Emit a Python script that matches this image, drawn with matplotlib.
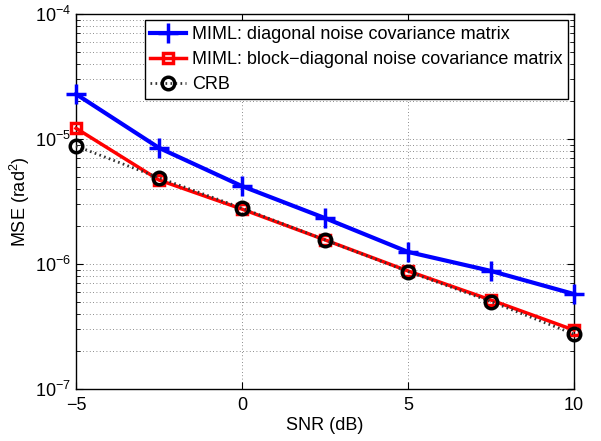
import matplotlib
matplotlib.use('Agg')
import matplotlib.pyplot as plt

plt.rcParams['font.family'] = ['Liberation Sans', 'DejaVu Sans']
plt.rcParams['mathtext.fontset'] = 'custom'
plt.rcParams['mathtext.rm'] = 'Liberation Sans'
plt.rcParams['mathtext.it'] = 'Liberation Sans:italic'

# ── DATA ─────────────────────────────────────────────────────────────────────
SNR = [-5, -2.5, 0, 2.5, 5, 7.5, 10]
MSE_DIAG = [2.29e-5, 8.5e-6, 4.2e-6, 2.33e-6, 1.25e-6, 8.8e-7, 5.75e-7]
MSE_BLOCK = [1.22e-5, 4.7e-6, 2.75e-6, 1.56e-6, 8.8e-7, 5.15e-7, 2.96e-7]
CRB = [8.8e-6, 4.9e-6, 2.8e-6, 1.56e-6, 8.7e-7, 5.0e-7, 2.75e-7]

LABELS = ['MIML: diagonal noise covariance matrix',
          'MIML: block\u2212diagonal noise covariance matrix',
          'CRB']

fig = plt.figure(figsize=(6.01, 4.41), dpi=100)
ax = fig.add_axes([0.1265, 0.118, 0.8285, 0.850])

ax.semilogy(SNR, MSE_DIAG, color='#0000ff', lw=3, marker='+', ms=15, mew=2.5,
            label=LABELS[0], zorder=3, clip_on=False)
ax.semilogy(SNR, MSE_BLOCK, color='#ff0000', lw=2.5, marker='s', ms=7, mew=2.5,
            mfc='none', label=LABELS[1], zorder=4, clip_on=False)
ax.semilogy(SNR, CRB, color='#333333', lw=2, ls=(0, (0.6, 1.2)), marker='o', ms=9,
            mew=2.5, mec='black', mfc='none', label=LABELS[2], zorder=5, clip_on=False)

ax.set_xlim(-5, 10)
ax.set_ylim(1e-7, 1e-4)
ax.set_xticks([-5, 0, 5, 10])
ax.set_xticklabels(['\u22125', '0', '5', '10'])
grid_kw = dict(ls=(0, (1, 3)), color='#666666', lw=0.6)
ax.grid(True, which='major', **grid_kw)
ax.grid(True, which='minor', axis='y', **grid_kw)
ax.tick_params(which='both', direction='in', top=True, right=True, labelsize=13)
ax.tick_params(which='major', length=5)
ax.tick_params(which='minor', length=3)
ax.tick_params(axis='x', pad=6)
for s in ax.spines.values():
    s.set_linewidth(1.0)

ax.set_xlabel('SNR (dB)', fontsize=13, labelpad=2)
ax.set_ylabel('MSE (rad$^2$)', fontsize=13, labelpad=2)

leg = ax.legend(loc='upper right', fontsize=13, fancybox=False, framealpha=1,
                edgecolor='black', borderpad=0.3, labelspacing=0.45,
                handlelength=2.0, handletextpad=0.3, borderaxespad=0.35)
leg.get_frame().set_linewidth(1.0)

fig.savefig('out.png', dpi=100)
